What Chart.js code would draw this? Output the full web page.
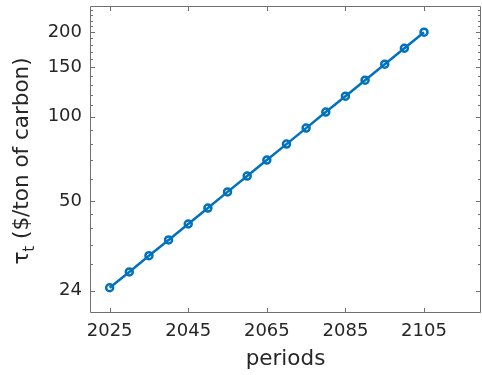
<!DOCTYPE html>
<html>
<head>
<meta charset="utf-8">
<script src="https://cdn.jsdelivr.net/npm/chart.js@4"></script>
<style>
  html, body { margin: 0; padding: 0; background: #fff; }
  #wrap { width: 482px; height: 375px; }
</style>
</head>
<body>
<div id="wrap"><canvas id="tauChart" width="482" height="375"></canvas></div>
<script>
// periods (every 5 years) and carbon tax values
var periods = [2025, 2030, 2035, 2040, 2045, 2050, 2055, 2060, 2065, 2070, 2075, 2080, 2085, 2090, 2095, 2100, 2105];
var tau = [24.6, 28.0, 32.0, 36.4, 41.5, 47.3, 54.0, 61.5, 70.1, 79.9, 91.1, 103.9, 118.4, 135.0, 153.9, 175.4, 200.0];

var xTicks = [2025, 2045, 2065, 2085, 2105];
var yTicks = [24, 50, 100, 150, 200];
var yMinorTicks = [30, 35, 40, 45, 60, 70, 80, 90, 110, 120, 130, 140, 160, 170, 180, 190, 210, 220, 230, 240];

var axisColor = '#707070';
var textColor = '#262626';
var lineColor = '#0072BD';
var fontFamily = '"DejaVu Sans", sans-serif';

// matlab-style box with inward ticks
var boxTicks = {
    id: 'boxTicks',
    afterDraw: function(chart) {
        var ctx = chart.ctx;
        var a = chart.chartArea;
        var xs = chart.scales.x, ys = chart.scales.y;
        ctx.save();
        ctx.strokeStyle = axisColor;
        ctx.lineWidth = 1;
        ctx.beginPath();
        ctx.rect(a.left + 0.5, a.top + 0.5, a.right - a.left - 1, a.bottom - a.top - 1);
        xTicks.forEach(function(v) {
            var px = Math.round(xs.getPixelForValue(v)) + 0.5;
            ctx.moveTo(px, a.bottom); ctx.lineTo(px, a.bottom - 5);
            ctx.moveTo(px, a.top); ctx.lineTo(px, a.top + 5);
        });
        yTicks.forEach(function(v) {
            var py = Math.round(ys.getPixelForValue(v)) + 0.5;
            ctx.moveTo(a.left, py); ctx.lineTo(a.left + 5, py);
            ctx.moveTo(a.right, py); ctx.lineTo(a.right - 5, py);
        });
        yMinorTicks.forEach(function(v) {
            var py = Math.round(ys.getPixelForValue(v)) + 0.5;
            ctx.moveTo(a.left, py); ctx.lineTo(a.left + 3, py);
            ctx.moveTo(a.right, py); ctx.lineTo(a.right - 3, py);
        });
        ctx.stroke();
        ctx.restore();
    }
};

// y title with subscript t
var yTitle = {
    id: 'yTitle',
    afterDraw: function(chart) {
        var ctx = chart.ctx;
        var big = '21.5px ' + fontFamily, small = '15px ' + fontFamily;
        var rest = ' ($/ton of carbon)';
        ctx.save();
        ctx.font = big;
        var wTau = ctx.measureText('\u03C4').width;
        var wRest = ctx.measureText(rest).width;
        ctx.font = small;
        var wT = ctx.measureText('t').width;
        var total = wTau + wT + wRest;
        ctx.translate(28, 161);
        ctx.rotate(-Math.PI / 2);
        ctx.fillStyle = textColor;
        ctx.textBaseline = 'alphabetic';
        ctx.textAlign = 'left';
        var x0 = -total / 2;
        ctx.font = big;
        ctx.fillText('\u03C4', x0, 0);
        ctx.font = small;
        ctx.fillText('t', x0 + wTau, 6);
        ctx.font = big;
        ctx.fillText(rest, x0 + wTau + wT, 0);
        ctx.restore();
    }
};

var ctx = document.getElementById('tauChart').getContext('2d');
var tauChart = new Chart(ctx, {
    type: 'line',
    data: {
        datasets: [{
            data: periods.map(function(p, i) { return {x: p, y: tau[i]}; }),
            borderColor: lineColor,
            borderWidth: 2.5,
            pointRadius: 3.5,
            pointBorderWidth: 2.5,
            pointBackgroundColor: 'rgba(0,0,0,0)',
            pointBorderColor: lineColor,
            tension: 0
        }]
    },
    options: {
        responsive: false,
        animation: false,
        layout: { autoPadding: false, padding: { top: 6, right: 1, left: 0, bottom: 0 } },
        plugins: { legend: { display: false }, tooltip: { enabled: false } },
        scales: {
            x: {
                type: 'linear',
                min: 2020,
                max: 2119.5,
                afterBuildTicks: function(scale) {
                    scale.ticks = xTicks.map(function(v) { return {value: v}; });
                },
                afterFit: function(scale) {
                    scale.height = 62;
                    scale.paddingLeft = 0;
                    scale.paddingRight = 0;
                },
                grid: { display: false, drawTicks: false },
                border: { display: false },
                ticks: {
                    color: textColor,
                    font: { family: fontFamily, size: 18 },
                    padding: 8,
                    maxRotation: 0,
                    callback: function(v) { return String(v); }
                },
                title: {
                    display: true,
                    text: 'periods',
                    color: textColor,
                    font: { family: fontFamily, size: 21.5 },
                    padding: { top: 0, bottom: 3 }
                }
            },
            y: {
                type: 'logarithmic',
                min: 20,
                max: 248,
                afterBuildTicks: function(scale) {
                    scale.ticks = yTicks.map(function(v) { return {value: v}; });
                },
                afterFit: function(scale) {
                    scale.width = 90;
                    scale.paddingTop = 0;
                    scale.paddingBottom = 0;
                },
                grid: { display: false, drawTicks: false },
                border: { display: false },
                ticks: {
                    color: textColor,
                    font: { family: fontFamily, size: 18 },
                    padding: 8,
                    callback: function(v) { return String(v); }
                }
            }
        }
    },
    plugins: [boxTicks, yTitle]
});
</script>
</body>
</html>
